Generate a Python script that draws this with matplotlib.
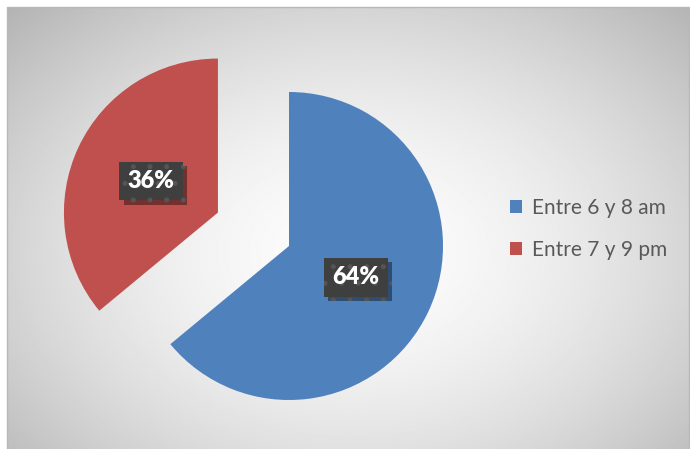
import numpy as np
import matplotlib
matplotlib.use("Agg")
import matplotlib.pyplot as plt
from matplotlib.patches import Patch, Rectangle
import matplotlib.patheffects as pe

labels = ["Entre 6 y 8 am", "Entre 7 y 9 pm"]
values = [64, 36]
colors = ["#4F81BD", "#C0504D"]
explode = [0, 0.51]

W, H = 690, 449
plt.rcParams['font.family'] = ['Lato', 'DejaVu Sans']
plt.rcParams['hatch.linewidth'] = 1.2

fig = plt.figure(figsize=(W / 100, H / 100), dpi=100)
fig.patch.set_facecolor('white')

# fondo con degradado radial
bg = fig.add_axes([0, 0, 1, 1])
bg.set_xlim(0, W)
bg.set_ylim(H, 0)
bg.axis('off')
yy, xx = np.mgrid[0:H, 0:W]
d = np.sqrt(((xx - 350) / 430) ** 2 + ((yy - 250) / 310) ** 2)
grad = 0.99 - 0.23 * np.clip(d, 0, 1.3) ** 1.7
grad = np.clip(grad, 0, 1)
bg.imshow(grad, cmap='gray', vmin=0, vmax=1, extent=(7, 689, 449, 7), zorder=0)
bg.add_patch(Rectangle((7, 7), 682, 444, fill=False, ec='#b8b8b8', lw=1, zorder=1))

# tarta
ax = fig.add_axes([0, 0, 1, 1])
ax.patch.set_alpha(0)
R = 154
cx, cy = 289, H - 246
wedges, texts, autotexts = ax.pie(values, colors=colors, explode=explode,
                                  startangle=90, counterclock=False,
                                  autopct='%1.0f%%', pctdistance=0.48,
                                  wedgeprops=dict(linewidth=0),
                                  textprops=dict(color='white', fontsize=17,
                                                 fontweight='heavy'))
ax.set_xlim(-cx / R, (W - cx) / R)
ax.set_ylim(-cy / R, (H - cy) / R)
ax.set_aspect('auto')
ax.axis('off')

for t in autotexts:
    t.set_bbox(dict(boxstyle='square,pad=0.35', fc='#3f3f3f', ec='#555555',
                    lw=0, hatch='.'))
    t.get_bbox_patch().set_path_effects([
        pe.SimplePatchShadow(offset=(3, -3), shadow_rgbFace='black', alpha=0.4),
        pe.Normal()])

handles = [Patch(fc=c, ec='none') for c in colors]
fig.legend(handles, labels, loc='center left',
           bbox_to_anchor=(491 / W, 1 - 229 / H),
           frameon=False, fontsize=15, labelcolor='#595959',
           handlelength=0.6, handleheight=0.6, handletextpad=0.45,
           labelspacing=1.05)

fig.savefig('out.png', dpi=100)
